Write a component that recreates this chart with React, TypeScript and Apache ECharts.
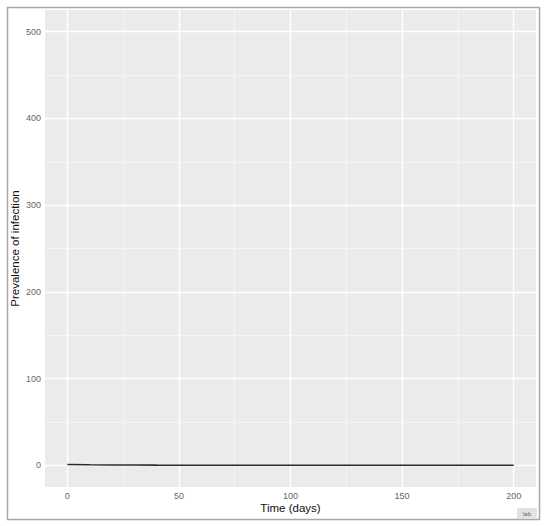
import React, { useEffect, useRef } from "react";
import * as echarts from "echarts";

const days = [0, 10, 20, 30, 40, 50, 60, 70, 80, 90, 100, 110, 120, 130, 140, 150, 160, 170, 180, 190, 200];
const prevalence = [1.0, 0.6, 0.4, 0.3, 0.2, 0.15, 0.1, 0.08, 0.06, 0.05, 0.04, 0.03, 0.02, 0.02, 0.01, 0.01, 0.01, 0.01, 0, 0, 0];
const xTicks = [0, 50, 100, 150, 200];
const xMinor = [25, 75, 125, 175];
const yTicks = [0, 100, 200, 300, 400, 500];
const yMinor = [50, 150, 250, 350, 450];

export default function App() {
  const ref = useRef<HTMLDivElement>(null);
  useEffect(() => {
    if (!ref.current) return;
    const chart = echarts.init(ref.current, null, { renderer: "svg" });
    const gridLines = [
      ...xMinor.map((v) => ({ xAxis: v, lineStyle: { color: "#f8f8f8", width: 0.7, type: "solid" } })),
      ...yMinor.map((v) => ({ yAxis: v, lineStyle: { color: "#f8f8f8", width: 0.7, type: "solid" } })),
      ...xTicks.map((v) => ({ xAxis: v, lineStyle: { color: "#ffffff", width: 1.4, type: "solid" } })),
      ...yTicks.map((v) => ({ yAxis: v, lineStyle: { color: "#ffffff", width: 1.4, type: "solid" } })),
    ];
    chart.setOption({
      animation: false,
      backgroundColor: "#ffffff",
      grid: {
        left: 45,
        top: 10,
        right: 11,
        bottom: 39,
        containLabel: false,
        outerBoundsMode: "none",
        show: true,
        backgroundColor: "#ebebeb",
        borderWidth: 0,
      },
      xAxis: {
        type: "value",
        min: -10,
        max: 210,
        name: "Time (days)",
        nameLocation: "middle",
        nameGap: 15,
        nameMoveOverlap: false,
        nameTextStyle: { color: "#111", fontSize: 11.5, fontFamily: "Liberation Sans" },
        axisLine: { show: false },
        splitLine: { show: false },
        axisTick: { show: true, length: 3, lineStyle: { color: "#666", width: 1 }, customValues: xTicks },
        axisLabel: { customValues: xTicks, color: "#666", fontSize: 9, margin: 4, fontFamily: "Liberation Sans" },
      },
      yAxis: {
        type: "value",
        min: -25,
        max: 525,
        name: "Prevalence of infection",
        nameLocation: "middle",
        nameGap: 24,
        nameMoveOverlap: false,
        nameTextStyle: { color: "#111", fontSize: 11.5, fontFamily: "Liberation Sans" },
        axisLine: { show: false },
        splitLine: { show: false },
        axisTick: { show: true, length: 3, lineStyle: { color: "#666", width: 1 }, customValues: yTicks },
        axisLabel: { customValues: yTicks, color: "#666", fontSize: 9, margin: 4, fontFamily: "Liberation Sans" },
      },
      series: [
        {
          type: "line",
          data: [],
          silent: true,
          z: 1,
          markLine: {
            silent: true,
            symbol: "none",
            label: { show: false },
            animation: false,
            lineStyle: { type: "solid" },
            data: gridLines,
          },
        },
        {
          type: "line",
          data: days.map((d, i) => [d, prevalence[i]]),
          showSymbol: false,
          symbol: "none",
          z: 5,
          lineStyle: { color: "#2b2b2b", width: 1.6 },
        },
      ],
      graphic: [
        {
          type: "rect",
          shape: { x: 7.5, y: 7.5, width: 532, height: 512 },
          style: { fill: "none", stroke: "#a8a8a8", lineWidth: 1.5 },
          silent: true,
        },
        {
          type: "rect",
          shape: { x: 517, y: 508, width: 20, height: 11 },
          style: { fill: "#e2e2e2" },
          silent: true,
        },
        {
          type: "text",
          x: 527,
          y: 513.5,
          style: { text: "lab", fontSize: 6, fill: "#666", align: "center", verticalAlign: "middle", fontFamily: "Liberation Sans" },
          silent: true,
        },
      ],
    });
    return () => chart.dispose();
  }, []);
  return <div ref={ref} style={{ position: "fixed", left: 0, top: 0, width: 547, height: 526 }} />;
}
